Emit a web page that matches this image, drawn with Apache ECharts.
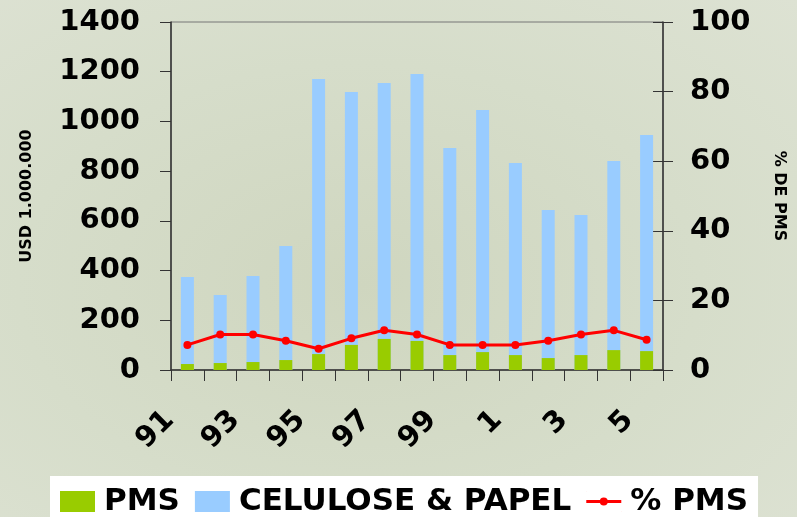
<!DOCTYPE html>
<html>
<head>
<meta charset="utf-8">
<style>
  html, body { margin: 0; padding: 0; }
  body { background: radial-gradient(ellipse at 45% 55%, #cfd6bf 0%, #d6ddca 55%, #dde2d3 100%); }
</style>
</head>
<body>
<div id="chart1" style="width: 797px;height: 517px;"></div>
<script src="https://cdn.jsdelivr.net/npm/echarts@6/dist/echarts.min.js"></script>
<script>
  // anos (91 .. 05)
  let years = ['91', '92', '93', '94', '95', '96', '97', '98', '99', '0', '1', '2', '3', '4', '5'];
  // USD 1.000.000
  let celulose = [374, 302, 378, 499, 1171, 1118, 1155, 1191, 893, 1046, 833, 644, 624, 841, 945];
  let pms = [24, 28, 32, 40, 64, 101, 125, 117, 60, 72, 60, 48, 60, 80, 76];
  // % DE PMS
  let pctPms = [7.2, 10.2, 10.2, 8.4, 6.1, 9.1, 11.4, 10.2, 7.2, 7.2, 7.2, 8.4, 10.2, 11.4, 8.7];
  let leftTicks = [0, 1400, 200];
  let rightTicks = [0, 100, 20];

  let font = 'DejaVu Sans';
  let myChart = echarts.init(document.getElementById('chart1'));

  // icone da legenda: linha fina com ponto no meio
  let lineIcon = 'path://M0,0 L0.3,0 L0,0.3 Z M35,21 L34.7,21 L35,20.7 Z ' +
    'M0,9 L35,9 L35,12 L0,12 Z M13.5,10.5 A4,4 0 1,1 21.5,10.5 A4,4 0 1,1 13.5,10.5 Z';

  let option = {
    backgroundColor: 'transparent',
    animation: false,
    textStyle: { fontFamily: font },
    grid: {
      left: 171, right: 134, top: 22, bottom: 147,
      show: true, borderColor: '#777', borderWidth: 1
    },
    legend: {
      left: 50, top: 476,
      padding: [10, 10, 10, 10],
      backgroundColor: '#ffffff',
      itemWidth: 35, itemHeight: 21, itemGap: 15,
      textStyle: { fontFamily: font, fontWeight: 'bold', fontSize: 31, color: '#000', padding: [0, 0, 0, 4] },
      data: [
        { name: 'PMS', icon: 'rect' },
        { name: 'CELULOSE & PAPEL', icon: 'rect' },
        { name: '% PMS', icon: lineIcon }
      ]
    },
    xAxis: {
      type: 'category',
      data: years,
      axisLine: { lineStyle: { color: '#333', width: 1.5 } },
      axisTick: { show: true, interval: 0, length: 11, lineStyle: { color: '#333' } },
      axisLabel: {
        interval: 1, rotate: 45, margin: 28,
        hideOverlap: false,
        padding: [0, 25, 0, 0],
        fontFamily: font, fontWeight: 'bold', fontSize: 29, color: '#000'
      },
      splitLine: { show: false }
    },
    yAxis: [
      {
        type: 'value',
        min: leftTicks[0], max: leftTicks[1], interval: leftTicks[2],
        name: 'USD 1.000.000', nameLocation: 'middle', nameGap: 136,
        nameTextStyle: { fontFamily: font, fontWeight: 'bold', fontSize: 16, color: '#000' },
        axisLine: { show: true, lineStyle: { color: '#333', width: 1.5 } },
        axisTick: { show: true, length: 11, lineStyle: { color: '#333' } },
        axisLabel: {
          margin: 31, fontFamily: font, fontWeight: 'bold', fontSize: 29, color: '#000',
          formatter: function (v) { return String(v); }
        },
        splitLine: { show: false }
      },
      {
        type: 'value', position: 'right',
        min: rightTicks[0], max: rightTicks[1], interval: rightTicks[2],
        name: '% DE PMS', nameLocation: 'middle', nameGap: 108, nameRotate: -90,
        nameTextStyle: { fontFamily: font, fontWeight: 'bold', fontSize: 16, color: '#000' },
        axisLine: { show: true, lineStyle: { color: '#333', width: 1.5 } },
        axisTick: { show: true, length: 10, lineStyle: { color: '#333' } },
        axisLabel: { margin: 27, fontFamily: font, fontWeight: 'bold', fontSize: 29, color: '#000' },
        splitLine: { show: false }
      },
      {
        // ticks do lado de dentro do eixo direito
        type: 'value', position: 'right',
        min: rightTicks[0], max: rightTicks[1], interval: rightTicks[2],
        axisLine: { show: false },
        axisTick: { show: true, inside: true, length: 10, lineStyle: { color: '#333' } },
        axisLabel: { show: false },
        splitLine: { show: false }
      }
    ],
    series: [
      {
        name: 'CELULOSE & PAPEL', type: 'bar', yAxisIndex: 0,
        data: celulose, barWidth: 13, barGap: '-100%',
        itemStyle: { color: '#99ccff' }
      },
      {
        name: 'PMS', type: 'bar', yAxisIndex: 0,
        data: pms, barWidth: 13, barGap: '-100%',
        itemStyle: { color: '#99cc00' }
      },
      {
        name: '% PMS', type: 'line', yAxisIndex: 1,
        data: pctPms,
        symbol: 'circle', symbolSize: 8,
        lineStyle: { color: '#ff0000', width: 3 },
        itemStyle: { color: '#ff0000' },
        z: 5
      }
    ]
  };
  myChart.setOption(option);
</script>
</body>
</html>
